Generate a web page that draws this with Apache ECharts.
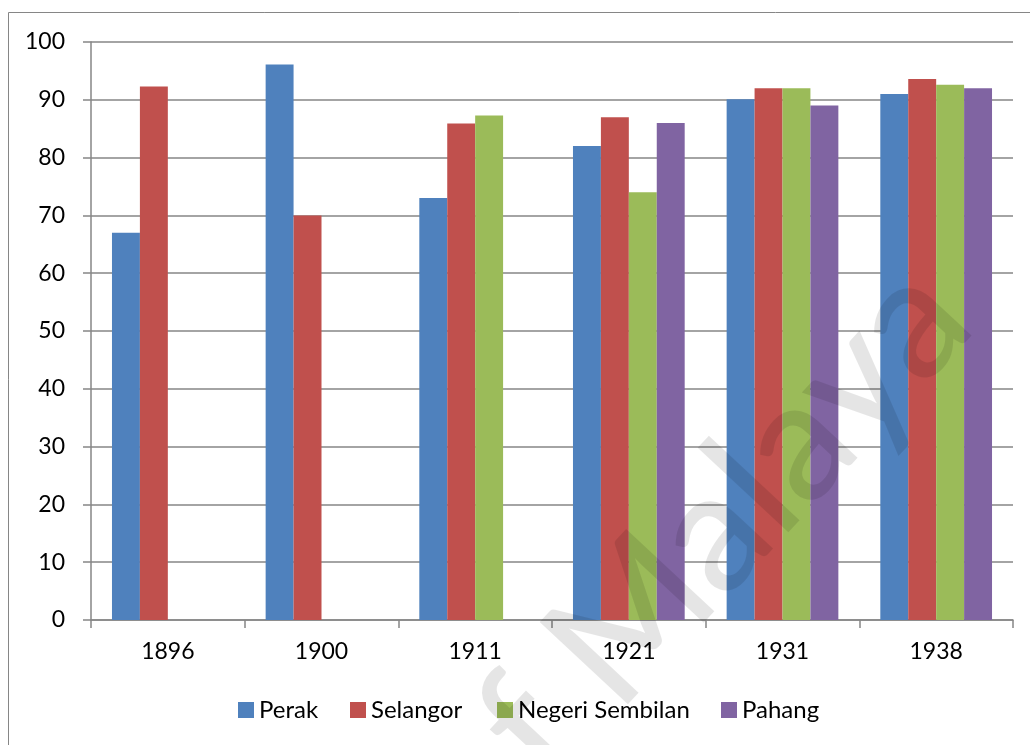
<!DOCTYPE html>
<html>
<head>
<meta charset="utf-8">
<script src="https://cdn.jsdelivr.net/npm/echarts@6/dist/echarts.min.js"></script>
<style>
html,body{margin:0;padding:0;background:#fff;}
#chart{width:1030px;height:745px;}
</style>
</head>
<body>
<div id="chart"></div>
<script>
const categories = ['1896', '1900', '1911', '1921', '1931', '1938'];
const seriesNames = ['Perak', 'Selangor', 'Negeri Sembilan', 'Pahang'];
const perak = [67.0, 96.1, 73.0, 82.0, 90.1, 91.0];
const selangor = [92.3, 70.0, 85.9, 87.0, 92.0, 93.6];
const negeriSembilan = [null, null, 87.3, 74.0, 92.0, 92.6];
const pahang = [null, null, null, 86.0, 89.0, 92.0];
const colors = ['#4F81BD', '#C0504D', '#9BBB59', '#8064A2'];
const watermarkText = 'of Malaya';

const seriesData = [perak, selangor, negeriSembilan, pahang];
const legendLefts = [238, 350, 497, 721];
const FONT = 'Lato, "Open Sans", sans-serif';

const chart = echarts.init(document.getElementById('chart'), null, {renderer: 'canvas'});
chart.setOption({
  animation: false,
  backgroundColor: '#ffffff',
  color: colors,
  grid: {left: 91, top: 42, width: 922, height: 578, containLabel: false},
  legend: seriesNames.map((name, i) => ({
    data: [name],
    left: legendLefts[i],
    top: 698,
    itemWidth: 16,
    itemHeight: 16,
    icon: 'rect',
    padding: 0,
    textStyle: {fontFamily: FONT, fontSize: 24, color: '#000'}
  })),
  xAxis: {
    type: 'category',
    data: categories,
    axisLine: {show: true, lineStyle: {color: '#868686', width: 1.5}},
    axisTick: {show: true, length: 8, lineStyle: {color: '#868686', width: 1.5}},
    axisLabel: {fontFamily: FONT, fontSize: 23, color: '#000', margin: 20},
    splitLine: {show: false}
  },
  yAxis: {
    type: 'value',
    min: 0,
    max: 100,
    interval: 10,
    axisLine: {show: true, lineStyle: {color: '#868686', width: 1.5}},
    axisTick: {show: true, length: 8, lineStyle: {color: '#868686', width: 1.5}},
    axisLabel: {fontFamily: FONT, fontSize: 23, color: '#000', margin: 26},
    splitLine: {show: true, lineStyle: {color: '#868686', width: 1.5}}
  },
  series: seriesNames.map((name, i) => ({
    name: name,
    type: 'bar',
    data: seriesData[i],
    barGap: '0%',
    barCategoryGap: '27.3%',
    itemStyle: {color: colors[i]}
  })),
  graphic: [
    {
      type: 'rect',
      z: -10,
      shape: {x: 8.5, y: 12.5, width: 1200, height: 900},
      style: {fill: 'none', stroke: '#868686', lineWidth: 1}
    },
    {
      type: 'text',
      z: 100,
      x: 692,
      y: 556,
      rotation: 47 * Math.PI / 180,
      silent: true,
      style: {
        text: watermarkText,
        font: '500 168px ' + FONT,
        fill: 'rgba(0,0,0,0.1)',
        textAlign: 'center',
        textVerticalAlign: 'middle'
      }
    }
  ]
});
</script>
</body>
</html>
